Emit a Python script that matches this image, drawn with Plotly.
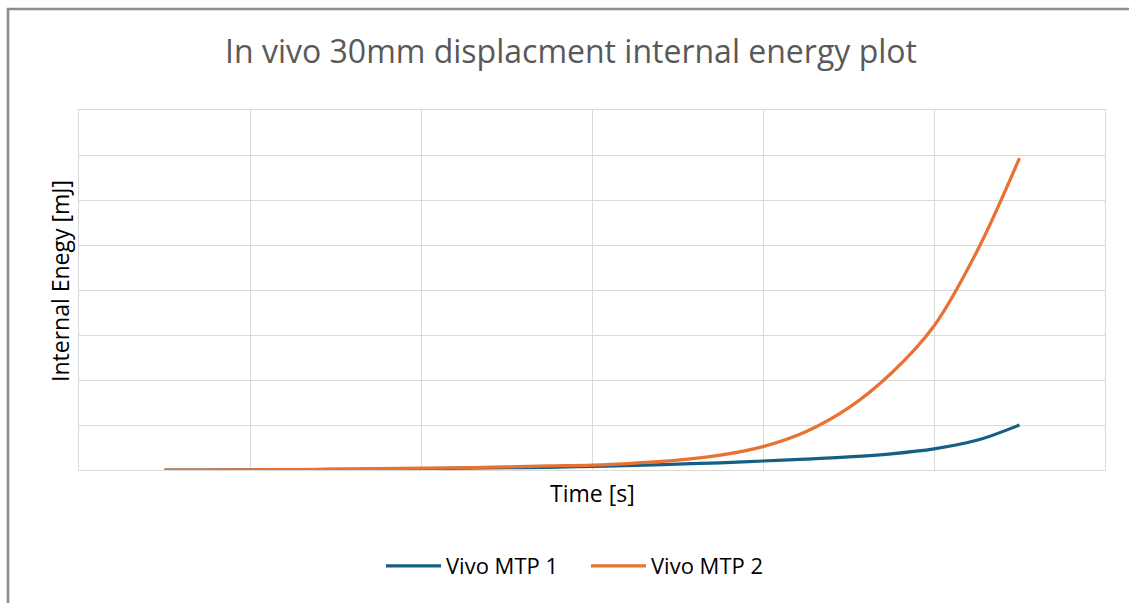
import plotly.graph_objects as go

# Data (x in grid units, y in grid units)
time = [0.5, 0.75, 1.0, 1.25, 1.5, 1.75, 2.0, 2.25, 2.5, 2.75, 3.0,
        3.25, 3.5, 3.75, 4.0, 4.25, 4.5, 4.75, 5.0, 5.25, 5.5]
vivo_mtp1 = [0.0, 0.0, 0.003, 0.008, 0.015, 0.02, 0.03, 0.04, 0.05, 0.06, 0.08,
             0.10, 0.13, 0.16, 0.20, 0.24, 0.29, 0.36, 0.47, 0.66, 1.0]
vivo_mtp2 = [0.0, 0.0, 0.005, 0.01, 0.02, 0.03, 0.04, 0.05, 0.07, 0.09, 0.11,
             0.155, 0.22, 0.33, 0.52, 0.85, 1.38, 2.15, 3.20, 4.85, 6.93]
series_names = ["Vivo MTP 1", "Vivo MTP 2"]
series_colors = ["#156082", "#E97132"]

W, H = 1129, 603
L, R, T, B = 79, 24, 110, 133
pw, ph = W - L - R, H - T - B

def px_x(p):
    return (p - L) / pw

def px_y(p):
    return (H - B - p) / ph

fig = go.Figure()
for name, ys, col in zip(series_names, [vivo_mtp1, vivo_mtp2], series_colors):
    fig.add_trace(go.Scatter(x=time, y=ys, mode="lines", name=name,
                             line=dict(color=col, width=3.2, shape="spline", smoothing=1.0)))

grid = "#d9d9d9"
fig.update_layout(
    width=W, height=H,
    margin=dict(l=L, r=R, t=T, b=B),
    paper_bgcolor="white", plot_bgcolor="white",
    font=dict(family="Open Sans, Lato, sans-serif", color="black"),
    title=dict(text="In vivo 30mm displacment internal energy plot",
               x=571 / W, xref="container", xanchor="center",
               y=1 - 52 / H, yanchor="middle",
               font=dict(size=32, color="#595959")),
    xaxis=dict(range=[0, 6], dtick=1, tick0=0, showgrid=True, gridcolor=grid, gridwidth=1,
               showticklabels=False, ticks="", zeroline=False,
               showline=True, linecolor=grid, linewidth=1, mirror=True, fixedrange=True),
    yaxis=dict(range=[0, 8], dtick=1, tick0=0, showgrid=True, gridcolor=grid, gridwidth=1,
               showticklabels=False, ticks="", zeroline=False,
               showline=True, linecolor=grid, linewidth=1, mirror=True, fixedrange=True),
    showlegend=True,
    legend=dict(orientation="h", x=px_x(586), xanchor="center", y=px_y(566), yanchor="middle",
                font=dict(size=22, color="black"), itemwidth=55,
                entrywidth=135, entrywidthmode="pixels", bgcolor="rgba(0,0,0,0)"),
    annotations=[
        dict(text="Internal Enegy [mJ]", x=px_x(60), y=px_y(281), xref="paper", yref="paper",
             showarrow=False, textangle=-90, font=dict(size=23, color="black"),
             xanchor="center", yanchor="middle"),
        dict(text="Time [s]", x=px_x(592), y=px_y(493), xref="paper", yref="paper",
             showarrow=False, font=dict(size=23, color="black"),
             xanchor="center", yanchor="middle"),
    ],
    shapes=[
        dict(type="rect", xref="paper", yref="paper",
             x0=px_x(8), x1=px_x(W + 10), y0=px_y(H + 10), y1=px_y(9),
             line=dict(color="#8c8c8c", width=2.5), fillcolor="rgba(0,0,0,0)", layer="below"),
    ],
)

fig.write_html("out.html")
